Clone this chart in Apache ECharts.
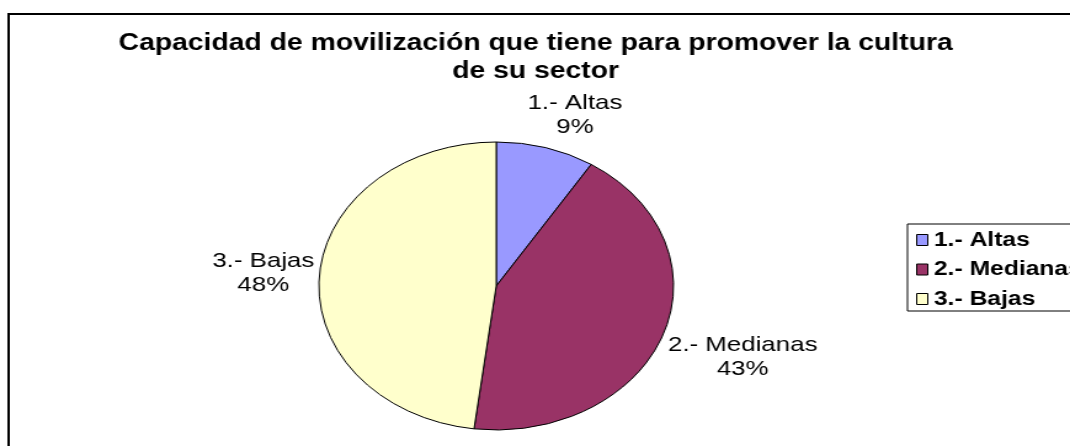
<!DOCTYPE html>
<html>
<head>
<meta charset="utf-8">
<script src="https://cdn.jsdelivr.net/npm/echarts@6/dist/echarts.min.js"></script>
<style>
  html, body { margin: 0; padding: 0; background: #fff; overflow: hidden; }
  /* the source picture is an Excel chart stretched sideways, so draw it narrow and stretch it */
  #chart { width: 869px; height: 446px; transform: scaleX(1.2313); transform-origin: 0 0; }
</style>
</head>
<body>
<div id="chart"></div>
<script>
const title = 'Capacidad de movilización que tiene para promover la cultura\nde su sector';
const categories = ['1.- Altas', '2.- Medianas', '3.- Bajas'];
const values = [9, 43, 48];

const FONT = '"Liberation Sans", Arial, sans-serif';
const PIE_CX = 403;
const PIE_CY = 286;
const PIE_R = 144;
const GAP_X = 4;
const GAP_Y = 10;

const clamp = (v) => Math.max(-1, Math.min(1, v));

// put each label box just outside the slice, the way Excel does it
function placeLabel(params) {
  const total = values.reduce((a, b) => a + b, 0);
  let before = 0;
  for (let j = 0; j < params.dataIndex; j++) before += values[j];
  const mid = ((before + values[params.dataIndex] / 2) / total) * Math.PI * 2;
  const s = Math.sin(mid);
  const c = Math.cos(mid);
  const px = PIE_CX + PIE_R * s;
  const py = PIE_CY - PIE_R * c;
  const w = params.labelRect.width;
  const h = params.labelRect.height;
  return {
    x: px + clamp(2 * s) * (w / 2 + GAP_X),
    y: py - clamp(2 * c) * (h / 2 + GAP_Y),
    align: 'center',
    verticalAlign: 'middle'
  };
}

const chart = echarts.init(document.getElementById('chart'));

chart.setOption({
  animation: false,
  color: ['#9999ff', '#993366', '#ffffcc'],
  graphic: [{
    type: 'rect',
    silent: true,
    z: -10,
    shape: { x: 7, y: 14, width: 2000, height: 1000 },
    style: { fill: '#fff', stroke: '#000', lineWidth: 2 }
  }],
  title: {
    text: title,
    left: 435,
    top: 30,
    padding: 0,
    textAlign: 'center',
    textStyle: {
      fontFamily: FONT,
      fontSize: 23,
      fontWeight: 'bold',
      lineHeight: 28,
      color: '#000'
    }
  },
  legend: {
    orient: 'vertical',
    left: 737,
    top: 224,
    padding: [5, 40, 1, 7],
    itemGap: 7.5,
    itemWidth: 9,
    itemHeight: 11,
    icon: 'rect',
    borderColor: '#000',
    borderWidth: 1,
    backgroundColor: '#fff',
    selectedMode: false,
    itemStyle: { borderColor: '#000', borderWidth: 1 },
    textStyle: {
      fontFamily: FONT,
      fontSize: 20,
      fontWeight: 'bold',
      lineHeight: 22,
      color: '#000'
    },
    data: categories
  },
  series: [{
    type: 'pie',
    center: [PIE_CX, PIE_CY],
    radius: PIE_R,
    startAngle: 90,
    clockwise: true,
    avoidLabelOverlap: false,
    itemStyle: { borderColor: '#000', borderWidth: 1 },
    emphasis: { disabled: true },
    labelLine: { show: false },
    label: {
      show: true,
      position: 'outside',
      formatter: (p) => `{a|${p.name}}\n{a|${Math.round(p.percent)}%}`,
      rich: {
        a: {
          fontFamily: FONT,
          fontSize: 21,
          lineHeight: 24,
          color: '#000',
          align: 'center'
        }
      }
    },
    labelLayout: placeLabel,
    data: categories.map((name, i) => ({ name, value: values[i] }))
  }]
});
</script>
</body>
</html>
